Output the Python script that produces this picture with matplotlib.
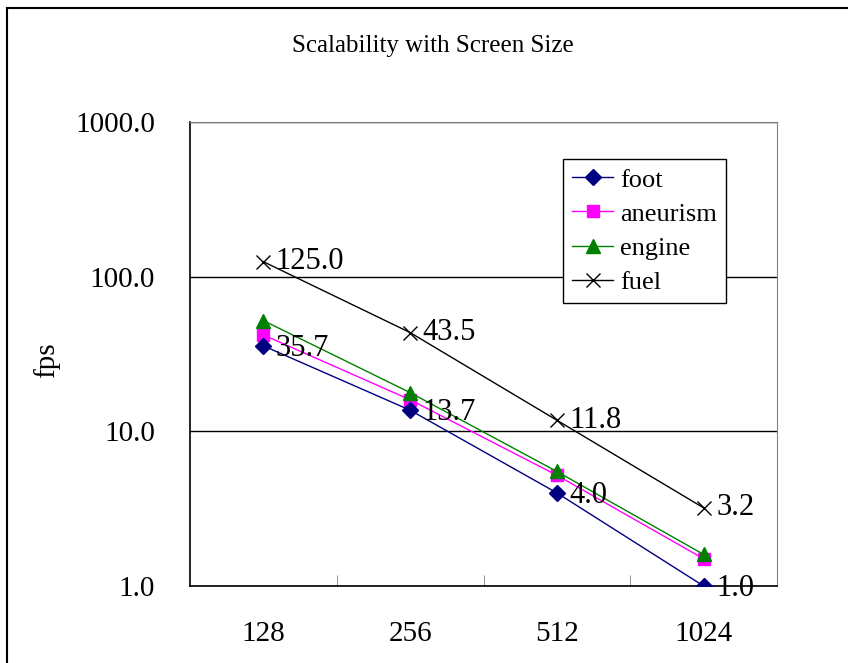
import matplotlib.pyplot as plt
import matplotlib.patches as mpatches
import matplotlib as mpl

mpl.rc('font', family='Liberation Serif')

# Data
screen_sizes = ['128', '256', '512', '1024']
foot = [35.7, 13.7, 4.0, 1.0]
aneurism = [42.0, 16.0, 5.2, 1.5]
engine = [52.0, 17.8, 5.5, 1.6]
fuel = [125.0, 43.5, 11.8, 3.2]
y_ticks = [1, 10, 100, 1000]
y_tick_labels = ['1.0', '10.0', '100.0', '1000.0']


def run():
    W, H = 848, 663
    fig = plt.figure(figsize=(W / 100, H / 100), dpi=100)
    ax = fig.add_axes([190 / W, 1 - 586 / H, (777 - 190) / W, (586 - 122) / H])

    x = list(range(len(screen_sizes)))

    ax.plot(x, foot, color='#000080', lw=1, marker='D', ms=8, label='foot', zorder=5)
    ax.plot(x, aneurism, color='#FF00FF', lw=1, marker='s', ms=9, label='aneurism', zorder=4)
    ax.plot(x, engine, color='#008000', lw=1, marker='^', ms=10, label='engine', zorder=4)
    ax.plot(x, fuel, color='black', lw=1, marker='x', ms=10, mew=1, label='fuel', zorder=5)

    # Data labels for foot and fuel
    for xi, v in zip(x, foot):
        ax.annotate(f'{v:.1f}', (xi, v), xytext=(9, -2), textcoords='offset points',
                    fontsize=22, va='center', ha='left', zorder=6)
    for xi, v in zip(x, fuel):
        ax.annotate(f'{v:.1f}', (xi, v), xytext=(9, 0), textcoords='offset points',
                    fontsize=22, va='center', ha='left', zorder=6)

    ax.set_yscale('log')
    ax.set_ylim(1, 1000)
    ax.set_xlim(-0.5, len(screen_sizes) - 0.5)
    ax.set_yticks(y_ticks)
    ax.set_yticklabels(y_tick_labels)
    ax.yaxis.set_minor_locator(mpl.ticker.NullLocator())
    ax.set_xticks(x)
    ax.set_xticklabels(screen_sizes)
    ax.set_xticks([i + 0.5 for i in x[:-1]], minor=True)

    ax.tick_params(axis='x', which='major', length=0, pad=25, labelsize=21)
    ax.tick_params(axis='x', which='minor', direction='in', length=8, color='#808080')
    ax.tick_params(axis='y', which='major', direction='in', length=0, pad=25, labelsize=21)

    ax.grid(axis='y', which='major', color='black', lw=1)
    ax.set_axisbelow(True)

    for s in ['top', 'right']:
        ax.spines[s].set_color('#808080')
    for s in ['left', 'bottom']:
        ax.spines[s].set_color('black')
        ax.spines[s].set_linewidth(1.2)

    leg = ax.legend(loc='upper left', bbox_to_anchor=((563 - 190) / 587, (586 - 159) / 464),
                    fontsize=19, frameon=True, fancybox=False, edgecolor='black',
                    framealpha=1, borderpad=0.35, labelspacing=0.4, handlelength=1.55,
                    handletextpad=0.25, borderaxespad=0)
    leg.get_frame().set_linewidth(1)

    fig.text(433 / W, 1 - 52 / H, 'Scalability with Screen Size', ha='center',
             va='baseline', fontsize=18)
    fig.text(47 / W, 1 - 360 / H, 'fps', rotation=90, ha='center', va='center', fontsize=21)

    # Outer chart border
    fig.add_artist(mpatches.Rectangle((7 / W, -0.1), 2, 1.1 - 8 / H,
                                      transform=fig.transFigure, fill=False,
                                      lw=1.5, edgecolor='black'))

    fig.savefig('out.png')


if __name__ == '__main__':
    run()
